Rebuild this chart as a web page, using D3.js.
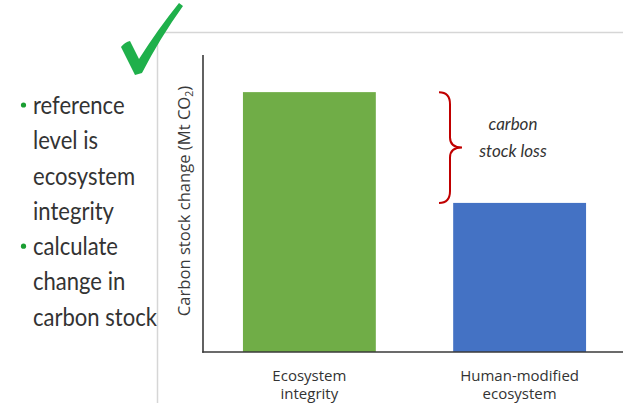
<!DOCTYPE html>
<html><head><meta charset="utf-8">
<script src="https://cdn.jsdelivr.net/npm/d3@7"></script>
<style>html,body{margin:0;padding:0;background:#fff;overflow:hidden}</style>
</head><body>
<svg id="c" width="623" height="403"></svg>
<script>
const categories = ["Ecosystem integrity", "Human-modified ecosystem"];
const categoryLines = [["Ecosystem", "integrity"], ["Human-modified", "ecosystem"]];
const values = [87.5, 50.2];
const barColors = ["#70AD47", "#4472C4"];
const yLabel = "Carbon stock change (Mt CO";
const braceLabel = ["carbon", "stock loss"];
const bullets = [["reference", "level is", "ecosystem", "integrity"], ["calculate", "change in", "carbon stock"]];

const svg = d3.select("#c");
const W = 623, H = 403;

// slide frame
svg.append("line").attr("x1",157.5).attr("x2",157.5).attr("y1",32).attr("y2",H)
  .attr("stroke","#d6d6d6").attr("stroke-width",1.5);
svg.append("line").attr("x1",157).attr("x2",W).attr("y1",32.5).attr("y2",32.5)
  .attr("stroke","#d6d6d6").attr("stroke-width",1.5);

// check mark
svg.append("path")
  .attr("d","M121,47 Q125,42 130,41 L139,59 Q158,29 179,3 L183,6 Q160,38 142,73 L135,75 Z")
  .attr("fill","#1fb04b");

// bullets
const textFont = "Lato, 'Open Sans', sans-serif";
const bulG = svg.append("g");
let lineIdx = 0;
const lineH = 35.3, firstBase = 114;
bullets.forEach(group => {
  group.forEach((t, i) => {
    const yb = firstBase + lineIdx * lineH;
    if (i === 0) {
      svg.append("circle").attr("cx",23.5).attr("cy",yb-9).attr("r",2.6).attr("fill","#1a9e32");
    }
    bulG.append("text").attr("x",0).attr("y",yb).text(t)
      .attr("font-family",textFont).attr("font-size",24.5).attr("fill","#333")
      .attr("class","bul");
    lineIdx++;
  });
});
// compress horizontally so "carbon stock" is ~124px wide (narrow face look)
(function(){
  const nodes = bulG.selectAll(".bul").nodes();
  const w = nodes[nodes.length-1].getComputedTextLength();
  const sx = 124 / w;
  bulG.attr("transform", `translate(33,0) scale(${sx},1)`);
})();

// chart
const x = d3.scaleBand().domain(categories).range([203, 626]).paddingInner(0.368).paddingOuter(0.19);
const y = d3.scaleLinear().domain([0, 100]).range([352, 55]);

svg.selectAll("rect.bar").data(values).enter().append("rect")
  .attr("class","bar")
  .attr("x",(d,i)=>x(categories[i]))
  .attr("width",x.bandwidth())
  .attr("y",d=>y(d))
  .attr("height",d=>y(0)-y(d))
  .attr("fill",(d,i)=>barColors[i]);

// axes lines
svg.append("line").attr("x1",203).attr("x2",203).attr("y1",y(100)).attr("y2",y(0)+0.75)
  .attr("stroke","#3a3a3a").attr("stroke-width",1.6);
svg.append("line").attr("x1",202.2).attr("x2",W).attr("y1",y(0)).attr("y2",y(0))
  .attr("stroke","#3a3a3a").attr("stroke-width",1.6);

// x labels
const labFont = "'Open Sans', sans-serif";
categories.forEach((c,i)=>{
  const cx = x(c) + x.bandwidth()/2;
  categoryLines[i].forEach((t,j)=>{
    svg.append("text").attr("x",cx).attr("y",380.5 + j*18.5).attr("text-anchor","middle")
      .attr("font-family",labFont).attr("font-size",15).attr("fill","#333").text(t);
  });
});

// y label
const yl = svg.append("text").attr("transform","translate(189.5,201) rotate(-90)")
  .attr("text-anchor","middle").attr("font-family",labFont).attr("font-size",16.6)
  .attr("font-weight",500).attr("fill","#3a3a3a");
yl.append("tspan").text(yLabel);
yl.append("tspan").attr("font-size",10.5).attr("dy",3).text("2");
yl.append("tspan").attr("dy",-3).text(")");

// brace between the two bar tops
const yTop = y(values[0]), yBot = y(values[1]);
const bx = 439, bw = 23, ym = (yTop + yBot)/2;
const braceD = `M${bx},${yTop} Q${bx+11},${yTop} ${bx+11},${yTop+12} L${bx+11},${ym-10} Q${bx+11},${ym} ${bx+bw},${ym} Q${bx+11},${ym} ${bx+11},${ym+10} L${bx+11},${yBot-12} Q${bx+11},${yBot} ${bx},${yBot}`;
svg.append("path").attr("d",braceD).attr("fill","none").attr("stroke","#c00000").attr("stroke-width",2);

braceLabel.forEach((t,i)=>{
  svg.append("text").attr("x",513).attr("y",130 + i*27).attr("text-anchor","middle")
    .attr("font-family",textFont).attr("font-style","italic").attr("font-size",17)
    .attr("fill","#333").text(t);
});
</script>
</body></html>
